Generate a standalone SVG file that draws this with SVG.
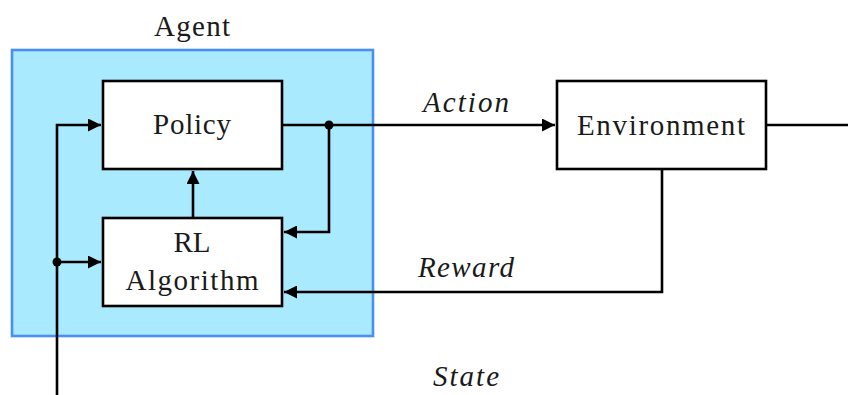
<svg xmlns="http://www.w3.org/2000/svg" width="848" height="395" viewBox="0 0 848 395">
  <style>
    .box { fill: #ffffff; stroke: #000000; stroke-width: 2.6; }
    .agent { fill: #aaeaff; stroke: #4a8ff5; stroke-width: 2.6; }
    .wire { fill: none; stroke: #000000; stroke-width: 2.6; }
    .lbl { font-family: "Liberation Serif", "Times New Roman", serif; font-size: 29px; fill: #1a1a1a; text-anchor: middle; }
    .it { font-style: italic; }
    .dot { fill: #000000; }
  </style>
  <defs>
    <marker id="arr" viewBox="0 0 13 13" refX="13" refY="6.5" markerWidth="13" markerHeight="13" markerUnits="userSpaceOnUse" orient="auto">
      <path d="M0,0 L13,6.5 L0,13 Z" fill="#000000"/>
    </marker>
  </defs>

  <g id="agent">
    <rect class="agent" x="12" y="50" width="361" height="286"/>
    <text class="lbl" x="192" y="36" textLength="76" lengthAdjust="spacing">Agent</text>
  </g>

  <g id="policy">
    <rect class="box" x="103" y="81" width="179" height="88"/>
    <text class="lbl" x="192" y="134" textLength="78" lengthAdjust="spacing">Policy</text>
  </g>

  <g id="rl-algorithm">
    <rect class="box" x="103" y="218" width="179" height="88"/>
    <text class="lbl" x="192" y="252" textLength="37" lengthAdjust="spacing">RL</text>
    <text class="lbl" x="192" y="290" textLength="133" lengthAdjust="spacing">Algorithm</text>
  </g>

  <g id="environment">
    <rect class="box" x="557" y="81" width="209" height="88"/>
    <text class="lbl" x="661" y="135" textLength="168" lengthAdjust="spacing">Environment</text>
  </g>

  <g id="connectors">
    <!-- action: policy to environment -->
    <path class="wire" d="M282,125 H555" marker-end="url(#arr)"/>
    <!-- action fed back to the learner -->
    <path class="wire" d="M329,125 V232 H284" marker-end="url(#arr)"/>
    <!-- learner updates policy -->
    <path class="wire" d="M193,218 V171" marker-end="url(#arr)"/>
    <!-- reward -->
    <path class="wire" d="M662,169 V292 H284" marker-end="url(#arr)"/>
    <!-- environment output -->
    <path class="wire" d="M766,125 H848"/>
    <!-- state into policy and learner -->
    <path class="wire" d="M57,395 V125 H101" marker-end="url(#arr)"/>
    <path class="wire" d="M57,262 H101" marker-end="url(#arr)"/>
    <circle class="dot" cx="329" cy="125" r="4.5"/>
    <circle class="dot" cx="57" cy="262" r="4.5"/>
    <text class="lbl it" x="466" y="112" textLength="86" lengthAdjust="spacing">Action</text>
    <text class="lbl it" x="466" y="277" textLength="96" lengthAdjust="spacing">Reward</text>
    <text class="lbl it" x="466" y="386" textLength="66" lengthAdjust="spacing">State</text>
  </g>
</svg>
